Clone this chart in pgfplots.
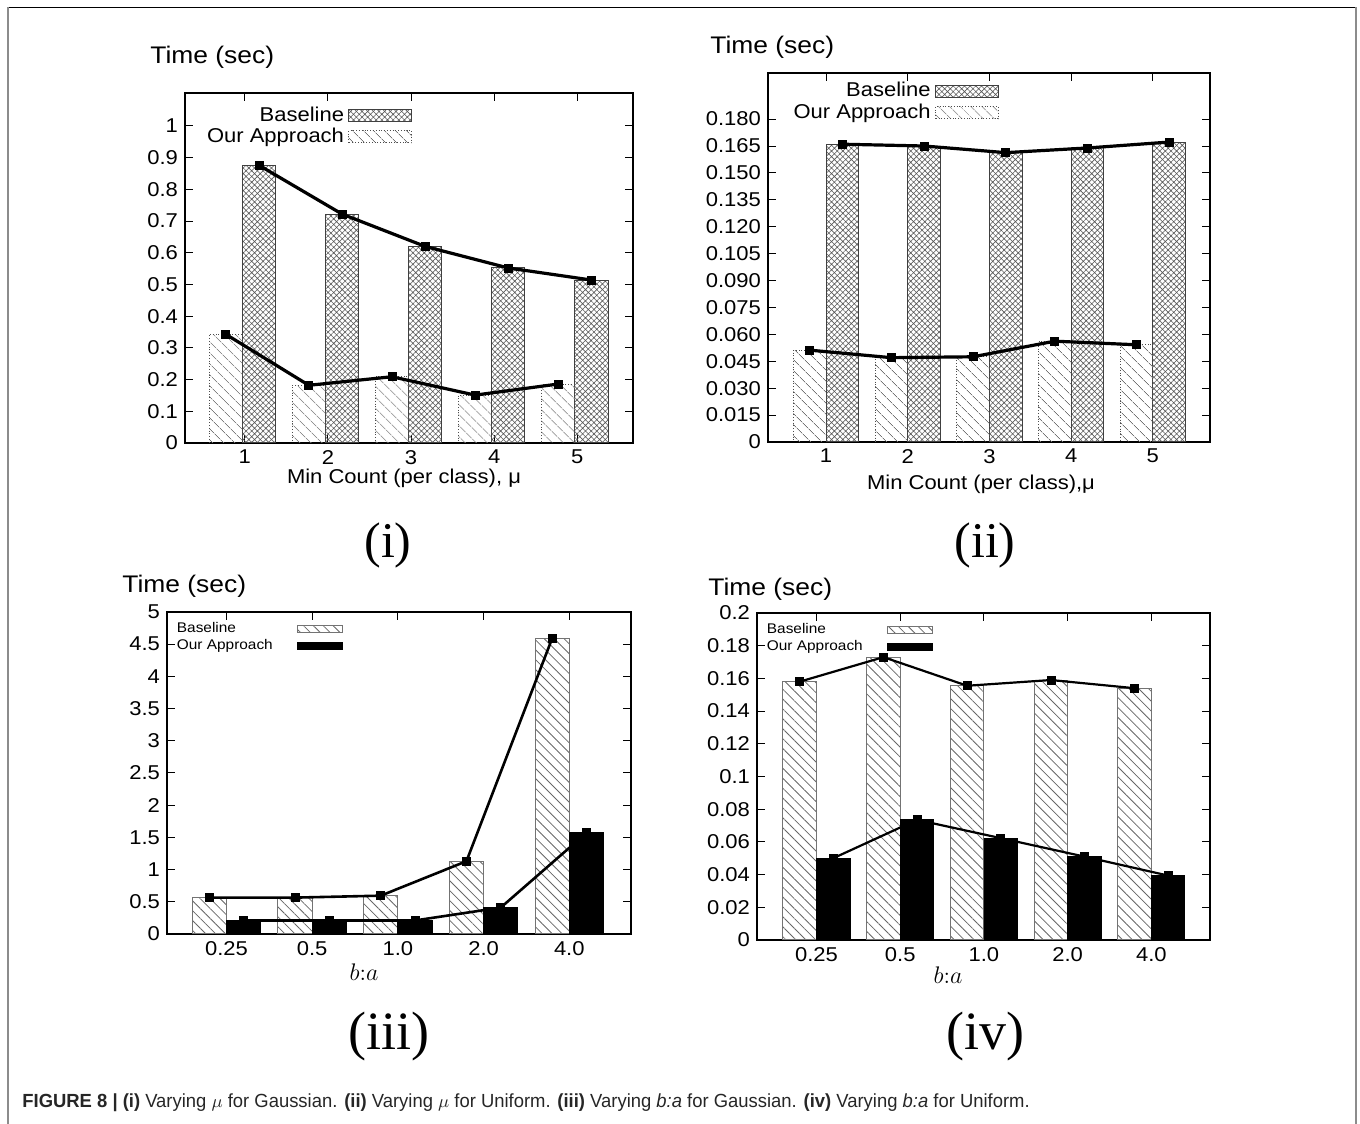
\documentclass[border=0pt]{standalone}
\usepackage{fontspec}
\setmainfont{Liberation Sans}[FakeStretch=1.1]
\newfontfamily\seriffont{Liberation Serif}
\newfontfamily\capfont{Liberation Sans}[FakeStretch=0.97]
\usepackage{pgfplots}
\pgfplotsset{compat=1.18}
\usetikzlibrary{patterns.meta}

% common look of the four gnuplot-style panels
\pgfplotsset{
  panel/.style={
    scale only axis, anchor=south west,
    ymin=0, xtick={1,2,3,4,5},
    axis line style={line width=0.6pt},
    every tick/.style={black, line width=0.5pt},
    tick align=inside, major tick length=4pt,
    tick label style={font=\fontsize{10}{12}\selectfont},
    /pgf/number format/assume math mode=true,
    scaled y ticks=false,
  },
  toplegend/.style={
    legend plot pos=right, legend cell align=right,
    legend style={draw=none, fill=none, font=\fontsize{10}{11}\selectfont, row sep=-2pt},
    legend image code/.code={\draw[##1] (0pt,-3pt) rectangle (31.5pt,3pt);},
  },
  botlegend/.style={
    legend plot pos=right, legend cell align=left,
    legend style={draw=none, fill=none, font=\fontsize{7}{7.5}\selectfont, row sep=-2pt, column sep=10pt},
    legend image code/.code={\draw[##1] (0pt,-1.75pt) rectangle (22.5pt,1.75pt);},
  },
  crossbar/.style={ybar, bar width=0.4, bar shift=0pt, draw=black!75, line width=0.5pt,
    pattern={Hatch[angle=45,distance=2pt,line width=0.3pt]}, pattern color=black!65},
  lightbar/.style={ybar, bar width=0.4, bar shift=0pt, draw=black!70, densely dotted, line width=0.4pt,
    pattern={Lines[angle=-45,distance=4pt,line width=0.35pt]}, pattern color=black!55},
  slashbar/.style={ybar, bar width=0.4, bar shift=0pt, draw=black!55, line width=0.5pt,
    pattern={Lines[angle=-45,distance=3.5pt,line width=0.4pt]}, pattern color=black!60},
  blackbar/.style={ybar, bar width=0.4, bar shift=0pt, draw=black, fill=black},
  trend/.style={forget plot, black, line width=#1, mark=square*, mark size=2pt,
    mark options={solid, line width=0.4pt}},
}

\begin{document}
\begin{tikzpicture}[x=0.5pt, y=0.5pt]
\useasboundingbox (0,0) rectangle (1360,1124);
% frame
\draw[black, line width=0.8pt] (7,1116.5) -- (1355.5,1116.5);
\draw[black!45, line width=1pt] (7.5,0) -- (7.5,1116.5);
\draw[black!45, line width=1pt] (1355.5,0) -- (1355.5,1116.5);

% (i) varying mu, Gaussian
\begin{axis}[panel, toplegend, at={(92.5pt,340.5pt)}, width=224pt, height=175pt,
  xmin=0.28, xmax=5.67, ymax=1.104,
  ytick={0,0.1,0.2,0.3,0.4,0.5,0.6,0.7,0.8,0.9,1},
  yticklabels={0,0.1,0.2,0.3,0.4,0.5,0.6,0.7,0.8,0.9,1},
  xticklabels={1,2,3,4,5},
  legend style={at={(0.521,0.985)}, anchor=north east}]
\addplot[crossbar] coordinates {(1.17,0.876) (2.17,0.722) (3.17,0.620) (4.17,0.552) (5.17,0.514)};
\addlegendentry{Baseline}
\addplot[lightbar] coordinates {(0.77,0.343) (1.77,0.182) (2.77,0.209) (3.77,0.151) (4.77,0.186)};
\addlegendentry{Our Approach}
\addplot[trend=1.6pt] coordinates {(1.17,0.876) (2.17,0.722) (3.17,0.620) (4.17,0.552) (5.17,0.514)};
\addplot[trend=1.6pt] coordinates {(0.77,0.343) (1.77,0.182) (2.77,0.209) (3.77,0.151) (4.77,0.186)};
\end{axis}

% (ii) varying mu, Uniform
\begin{axis}[panel, toplegend, at={(384pt,341pt)}, width=221pt, height=184.5pt,
  xmin=0.29, xmax=5.70, ymax=0.2057,
  ytick={0,0.015,0.03,0.045,0.06,0.075,0.09,0.105,0.12,0.135,0.15,0.165,0.18},
  yticklabels={0,0.015,0.030,0.045,0.060,0.075,0.090,0.105,0.120,0.135,0.150,0.165,0.180},
  xticklabels={1,2,3,4,5},
  legend style={at={(0.536,0.997)}, anchor=north east}]
\addplot[crossbar] coordinates {(1.2,0.1660) (2.2,0.1650) (3.2,0.1613) (4.2,0.1639) (5.2,0.1672)};
\addlegendentry{Baseline}
\addplot[lightbar] coordinates {(0.8,0.0512) (1.8,0.0470) (2.8,0.0475) (3.8,0.0562) (4.8,0.0542)};
\addlegendentry{Our Approach}
\addplot[trend=1.6pt] coordinates {(1.2,0.1660) (2.2,0.1650) (3.2,0.1613) (4.2,0.1639) (5.2,0.1672)};
\addplot[trend=1.6pt] coordinates {(0.8,0.0512) (1.8,0.0470) (2.8,0.0475) (3.8,0.0562) (4.8,0.0542)};
\end{axis}

% (iii) varying b:a, Gaussian
\begin{axis}[panel, botlegend, at={(83.5pt,95pt)}, width=232pt, height=161pt,
  xmin=0.306, xmax=5.72, ymax=5,
  ytick={0,0.5,1,1.5,2,2.5,3,3.5,4,4.5,5},
  yticklabels={0,0.5,1,1.5,2,2.5,3,3.5,4,4.5,5},
  xticklabels={0.25,0.5,1.0,2.0,4.0},
  legend style={at={(-0.001,0.995)}, anchor=north west}]
\addplot[slashbar] coordinates {(0.8,0.565) (1.8,0.565) (2.8,0.595) (3.8,1.13) (4.8,4.59)};
\addlegendentry{Baseline}
\addplot[blackbar] coordinates {(1.2,0.21) (2.2,0.21) (3.2,0.21) (4.2,0.41) (5.2,1.57)};
\addlegendentry{Our Approach}
\addplot[trend=1.3pt] coordinates {(0.8,0.565) (1.8,0.565) (2.8,0.595) (3.8,1.13) (4.8,4.59)};
\addplot[trend=1.3pt] coordinates {(1.2,0.21) (2.2,0.21) (3.2,0.21) (4.2,0.41) (5.2,1.57)};
\end{axis}

% (iv) varying b:a, Uniform
\begin{axis}[panel, botlegend, at={(378.5pt,92pt)}, width=226.5pt, height=163.5pt,
  xmin=0.29, xmax=5.70, ymax=0.2,
  ytick={0,0.02,0.04,0.06,0.08,0.1,0.12,0.14,0.16,0.18,0.2},
  yticklabels={0,0.02,0.04,0.06,0.08,0.1,0.12,0.14,0.16,0.18,0.2},
  xticklabels={0.25,0.5,1.0,2.0,4.0},
  legend style={at={(-0.001,0.995)}, anchor=north west}]
\addplot[slashbar] coordinates {(0.8,0.158) (1.8,0.173) (2.8,0.1555) (3.8,0.159) (4.8,0.154)};
\addlegendentry{Baseline}
\addplot[blackbar] coordinates {(1.2,0.050) (2.2,0.0735) (3.2,0.0623) (4.2,0.051) (5.2,0.0394)};
\addlegendentry{Our Approach}
\addplot[trend=1.1pt] coordinates {(0.8,0.158) (1.8,0.173) (2.8,0.1555) (3.8,0.159) (4.8,0.154)};
\addplot[trend=1.1pt] coordinates {(1.2,0.050) (2.2,0.0735) (3.2,0.0623) (4.2,0.051) (5.2,0.0394)};
\end{axis}

% titles and axis labels
\node[anchor=west, inner sep=0pt, font=\fontsize{12}{14}\selectfont] at (150,1067) {Time (sec)};
\node[anchor=west, inner sep=0pt, font=\fontsize{12}{14}\selectfont] at (710,1077) {Time (sec)};
\node[anchor=west, inner sep=0pt, font=\fontsize{12}{14}\selectfont] at (122,538) {Time (sec)};
\node[anchor=west, inner sep=0pt, font=\fontsize{12}{14}\selectfont] at (708,535) {Time (sec)};
\node[inner sep=0pt, font=\fontsize{10}{12}\selectfont] at (404,646) {Min Count (per class), μ};
\node[inner sep=0pt, font=\fontsize{10}{12}\selectfont] at (981,640) {Min Count (per class),μ};
\node[inner sep=0pt, font=\fontsize{11.5}{13}\selectfont] at (364,152) {$b{:}a$};
\node[inner sep=0pt, font=\fontsize{11.5}{13}\selectfont] at (948,149) {$b{:}a$};
\node[inner sep=0pt, font=\seriffont\fontsize{25}{28}\selectfont] at (388,579) {(i)};
\node[inner sep=0pt, font=\seriffont\fontsize{25}{28}\selectfont] at (985,579) {(ii)};
\node[inner sep=0pt, font=\seriffont\fontsize{27}{30}\selectfont] at (389,87) {(iii)};
\node[inner sep=0pt, font=\seriffont\fontsize{27}{30}\selectfont] at (985,87) {(iv)};

% caption
\node[anchor=west, inner sep=0pt, font=\capfont\fontsize{9.5}{11}\selectfont, text=black!85] at (22,21)
  {\textbf{FIGURE 8 | (i)} Varying $\mu$ for Gaussian. \textbf{(ii)} Varying $\mu$ for Uniform. \textbf{(iii)} Varying \textit{b:a} for Gaussian. \textbf{(iv)} Varying \textit{b:a} for Uniform.};
\end{tikzpicture}
\end{document}
